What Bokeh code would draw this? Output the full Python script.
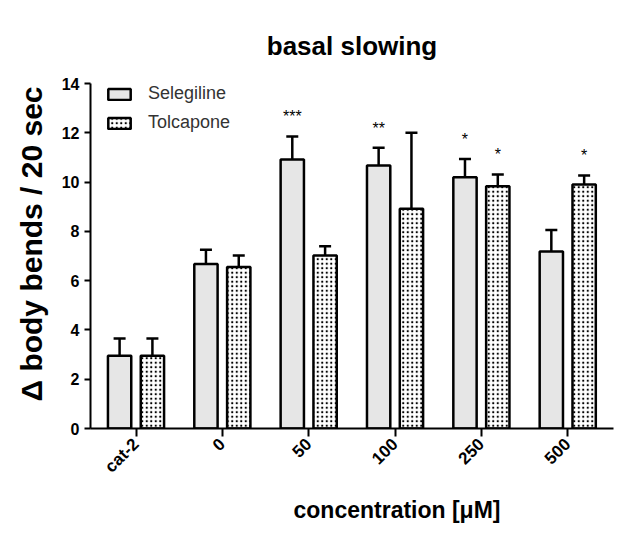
import numpy as np
from bokeh.plotting import figure
from bokeh.models import (ColumnDataSource, Range1d, Legend, LegendItem, Title,
                          Whisker, TeeHead, FixedTicker)
from bokeh.core.properties import value
from bokeh.embed import file_html
from bokeh.resources import INLINE

# ---- data ----
categories = ["cat-2", "0", "50", "100", "250", "500"]
selegiline = [2.95, 6.68, 10.92, 10.67, 10.2, 7.18]
selegiline_err = [0.7, 0.57, 0.93, 0.72, 0.74, 0.88]
tolcapone = [2.95, 6.55, 7.02, 8.92, 9.83, 9.9]
tolcapone_err = [0.7, 0.47, 0.38, 3.08, 0.48, 0.37]
sel_sig = ["", "", "***", "**", "*", ""]
tol_sig = ["", "", "", "", "*", "*"]

FONT = "Liberation Sans"
idx = np.arange(len(categories))
off = 0.19
bw = 0.27

p = figure(width=615, height=532, output_backend="svg", toolbar_location=None,
           x_range=Range1d(-0.527, 5.53), y_range=Range1d(0, 14),
           min_border_left=90, min_border_right=2, min_border_top=83,
           min_border_bottom=104)
p.outline_line_color = None
p.grid.visible = False
p.background_fill_color = "white"

p.title.text = "basal slowing"
p.title.align = "center"
p.title.text_font = FONT
p.title.text_font_size = "26px"
p.title.text_font_style = "bold"
p.title.text_color = "black"
p.title.standoff = 45

src_s = ColumnDataSource(dict(x=idx - off, top=selegiline, up=np.array(selegiline) + np.array(selegiline_err), sig=sel_sig))
src_t = ColumnDataSource(dict(x=idx + off, top=tolcapone, up=np.array(tolcapone) + np.array(tolcapone_err), sig=tol_sig))

for src in (src_s, src_t):
    w = Whisker(source=src, base="x", upper="up", lower="top", dimension="height",
                line_width=2.5, line_color="black",
                upper_head=TeeHead(size=12, line_width=2.5, line_color="black"),
                lower_head=None)
    p.add_layout(w)

r_s = p.vbar(x="x", top="top", width=bw, source=src_s, fill_color="#e6e6e6",
             line_color="black", line_width=2.5)
r_t = p.vbar(x="x", top="top", width=bw, source=src_t, fill_color="white",
             line_color="black", line_width=2.5, hatch_pattern="dot",
             hatch_color="black", hatch_scale=4.5, hatch_weight=2.2)

for src in (src_s, src_t):
    p.text(x="x", y="up", text="sig", source=src, text_align="center",
           text_baseline="bottom", y_offset=-11, text_font=value(FONT),
           text_font_size="16px", text_color="black")

legend = Legend(items=[LegendItem(label="Selegiline", renderers=[r_s]),
                       LegendItem(label="Tolcapone", renderers=[r_t])],
                location=(15, 295), margin=0, padding=0, spacing=8,
                glyph_width=28, glyph_height=14, label_standoff=15,
                label_height=20,
                label_text_font=FONT, label_text_font_size="18px",
                label_text_color="#333333", border_line_color=None,
                background_fill_alpha=0)
p.add_layout(legend)

# axes
for ax in (p.xaxis[0], p.yaxis[0]):
    ax.axis_line_width = 2
    ax.major_tick_line_width = 2
    ax.minor_tick_line_color = None
    ax.major_label_text_font = FONT
    ax.major_label_text_font_style = "bold"
    ax.major_label_text_color = "black"
    ax.major_tick_in = 0

p.yaxis.major_label_text_font_size = "16px"
p.xaxis.major_label_text_font_size = "17px"
p.yaxis.ticker = FixedTicker(ticks=list(range(0, 15, 2)))
p.yaxis.major_tick_out = 6
p.xaxis.ticker = FixedTicker(ticks=list(idx))
p.xaxis.major_label_overrides = {int(i): c for i, c in zip(idx, categories)}
p.xaxis.major_label_orientation = np.pi / 4
p.xaxis.major_tick_out = 8

ylab = Title(text="\u0394 body bends / 20 sec", align="left", offset=27,
             text_font=FONT, text_font_size="30px", text_font_style="bold",
             text_color="black", standoff=22)
xlab = Title(text="concentration [\u03bcM]", align="left", offset=203,
             text_font=FONT, text_font_size="23px", text_font_style="bold",
             text_color="black", standoff=19)
p.add_layout(ylab, "left")
p.add_layout(xlab, "below")

open("out.html", "w").write(file_html(p, INLINE))
